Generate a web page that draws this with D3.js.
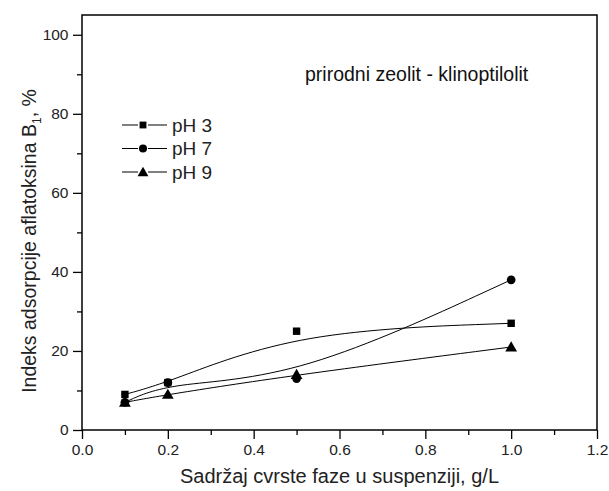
<!DOCTYPE html>
<html>
<head>
<meta charset="utf-8">
<script src="https://cdn.jsdelivr.net/npm/d3@7"></script>
<style>
  body { margin: 0; background: #fff; }
</style>
</head>
<body>
<div id="chart"></div>
<script>
// data
const xValues = [0.1, 0.2, 0.5, 1.0];
const ph3 = [9, 12, 25, 27];
const ph7 = [7, 12, 13, 38];
const ph9 = [7, 9, 14, 21];
const seriesNames = ["pH 3", "pH 7", "pH 9"];
const xTicks = [0, 0.2, 0.4, 0.6, 0.8, 1.0, 1.2];
const yTicks = [0, 20, 40, 60, 80, 100];

const width = 609;
const height = 491;
const margin = {top: 15, right: 12, bottom: 61, left: 82};

const svg = d3.create("svg")
    .attr("width", width)
    .attr("height", height);

const xScale = d3.scaleLinear()
    .domain([0, 1.2])
    .range([margin.left, width - margin.right]);

const yScale = d3.scaleLinear()
    .domain([0, 105])
    .range([height - margin.bottom, margin.top]);

const font = "Liberation Sans, Arial, sans-serif";

// frame
svg.append("rect")
    .attr("x", margin.left)
    .attr("y", margin.top)
    .attr("width", width - margin.left - margin.right)
    .attr("height", height - margin.top - margin.bottom)
    .attr("fill", "none")
    .attr("stroke", "#000")
    .attr("stroke-width", 1.5);

// minor ticks first
svg.append("g")
    .attr("transform", `translate(0, ${height - margin.bottom})`)
    .call(d3.axisBottom(xScale).tickValues(d3.range(0.1, 1.2, 0.2)).tickSize(5).tickFormat(""))
    .call(g => g.select(".domain").remove());

svg.append("g")
    .attr("transform", `translate(${margin.left}, 0)`)
    .call(d3.axisLeft(yScale).tickValues(d3.range(10, 101, 20)).tickSize(5).tickFormat(""))
    .call(g => g.select(".domain").remove());

// major ticks
svg.append("g")
    .attr("transform", `translate(0, ${height - margin.bottom})`)
    .call(d3.axisBottom(xScale).tickValues(xTicks).tickSize(9).tickPadding(5).tickFormat(d3.format(".1f")))
    .call(g => g.select(".domain").remove());

svg.append("g")
    .attr("transform", `translate(${margin.left}, 0)`)
    .call(d3.axisLeft(yScale).tickValues(yTicks).tickSize(9).tickPadding(4.5))
    .call(g => g.select(".domain").remove());

svg.selectAll(".tick line").attr("stroke", "#000").attr("stroke-width", 1.3);
svg.selectAll(".tick text")
    .attr("font-family", font)
    .attr("font-size", 15.5)
    .attr("fill", "#222");

// axis titles
svg.append("text")
    .attr("x", (margin.left + width - margin.right) / 2)
    .attr("y", 483)
    .attr("text-anchor", "middle")
    .attr("font-family", font)
    .attr("font-size", 20)
    .attr("fill", "#222")
    .text("Sadržaj cvrste faze u suspenziji, g/L");

const yTitle = svg.append("text")
    .attr("transform", `translate(36, 241) rotate(-90)`)
    .attr("text-anchor", "middle")
    .attr("font-family", font)
    .attr("font-size", 19.5)
    .attr("fill", "#222");
yTitle.append("tspan").text("Indeks adsorpcije aflatoksina B");
yTitle.append("tspan").attr("font-size", 12).attr("dy", 5).text("1");
yTitle.append("tspan").attr("dy", -5).text(", %");

// annotation
svg.append("text")
    .attr("x", 305)
    .attr("y", 81)
    .attr("font-family", font)
    .attr("font-size", 19.5)
    .attr("fill", "#111")
    .text("prirodni zeolit - klinoptilolit");

// series
const series = [ph3, ph7, ph9].map((vals, i) => ({
    name: seriesNames[i],
    shape: [d3.symbolSquare, d3.symbolCircle, d3.symbolTriangle][i],
    size: [55, 60, 60][i],
    points: vals.map((v, j) => ({x: xValues[j], y: v}))
}));

const line = d3.line()
    .x(d => xScale(d.x))
    .y(d => yScale(d.y))
    .curve(d3.curveBasis);

series.forEach(s => {
    svg.append("path")
        .attr("d", line(s.points))
        .attr("fill", "none")
        .attr("stroke", "#000")
        .attr("stroke-width", 1);
});

series.forEach(s => {
    svg.append("g").selectAll("path")
        .data(s.points)
        .join("path")
        .attr("transform", d => `translate(${xScale(d.x)}, ${yScale(d.y) + (s.shape === d3.symbolTriangle ? 1 : 0)})`)
        .attr("d", d3.symbol().type(s.shape).size(s.size))
        .attr("fill", "#000");
});

// legend
const legend = svg.append("g");
series.forEach((s, i) => {
    const y = 125 + i * 23.5;
    const g = legend.append("g").attr("transform", `translate(0, ${y})`);
    g.append("line").attr("x1", 122).attr("x2", 138).attr("y1", 0).attr("y2", 0).attr("stroke", "#000");
    g.append("line").attr("x1", 148).attr("x2", 167).attr("y1", 0).attr("y2", 0).attr("stroke", "#000");
    g.append("path")
        .attr("transform", `translate(143, ${s.shape === d3.symbolTriangle ? 1 : 0})`)
        .attr("d", d3.symbol().type(s.shape).size(s.size * 0.85))
        .attr("fill", "#000");
    g.append("text")
        .attr("x", 172)
        .attr("y", 6.8)
        .attr("font-family", font)
        .attr("font-size", 19)
        .attr("fill", "#222")
        .text(s.name);
});

document.getElementById("chart").appendChild(svg.node());
</script>
</body>
</html>
